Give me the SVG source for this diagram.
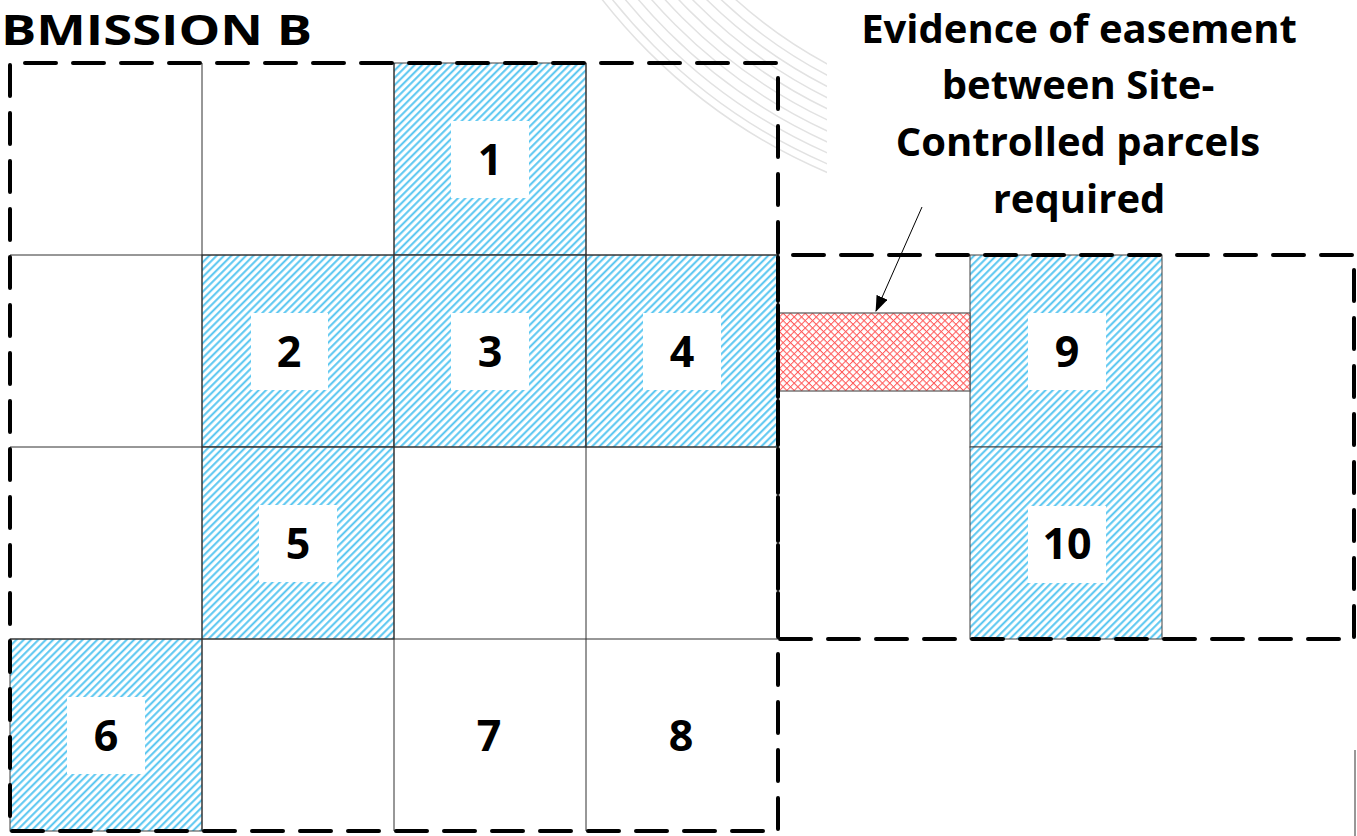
<svg xmlns="http://www.w3.org/2000/svg" width="1357" height="836" viewBox="0 0 1357 836">
<style>
.cell{fill:none;stroke:#303030;stroke-width:1}
.hat{fill:url(#hatch);stroke:#404040;stroke-width:1}
.lbl{fill:#fff}
.num{font-family:"Open Sans","Liberation Sans",sans-serif;font-weight:bold;font-size:43px;fill:#000;text-anchor:middle}
.ann{font-family:"Open Sans","Liberation Sans",sans-serif;font-weight:bold;font-size:40px;fill:#000;text-anchor:middle}
.dash{fill:none;stroke:#000;stroke-width:4;stroke-dasharray:31 17;stroke-dashoffset:33;stroke-linecap:round}
.wm{fill:none;stroke:#e2e2e2;stroke-width:1.5}
</style>
<defs>
<pattern id="hatch" patternUnits="userSpaceOnUse" width="5.2" height="10" patternTransform="rotate(45)">
<rect width="5.2" height="10" fill="#fff"/>
<line x1="1.2" y1="0" x2="1.2" y2="10" stroke="#4fc3f0" stroke-width="1.9"/>
</pattern>
<pattern id="cross" patternUnits="userSpaceOnUse" width="5.2" height="5.2" patternTransform="rotate(45)">
<rect width="5.2" height="5.2" fill="#fff"/>
<path d="M0.5,0 V5.2 M0,0.5 H5.2" stroke="#ff5a5a" stroke-width="1"/>
</pattern>
<marker id="arr" markerWidth="16" markerHeight="12" refX="15" refY="6" orient="auto" markerUnits="userSpaceOnUse">
<path d="M0,0 L16,6 L0,12 Z" fill="#000"/>
</marker>
<clipPath id="wmclip"><rect x="560" y="0" width="267" height="200"/></clipPath>
</defs>
<rect width="1357" height="836" fill="#fff"/>
<g id="watermark" clip-path="url(#wmclip)">
<circle class="wm" cx="1050" cy="-350" r="470"/>
<circle class="wm" cx="1050" cy="-350" r="480"/>
<circle class="wm" cx="1050" cy="-350" r="490"/>
<circle class="wm" cx="1050" cy="-350" r="500"/>
<circle class="wm" cx="1050" cy="-350" r="510"/>
<circle class="wm" cx="1050" cy="-350" r="520"/>
<circle class="wm" cx="1050" cy="-350" r="530"/>
<circle class="wm" cx="1050" cy="-350" r="540"/>
<circle class="wm" cx="1050" cy="-350" r="550"/>
<circle class="wm" cx="1050" cy="-350" r="560"/>
<circle class="wm" cx="1050" cy="-350" r="568"/>
</g>
<text id="title" x="1" y="45" font-family="'Open Sans','Liberation Sans',sans-serif" font-weight="bold" font-size="42" textLength="311" lengthAdjust="spacingAndGlyphs">BMISSION B</text>
<g id="c1"><rect class="hat" x="394" y="63" width="192" height="192"/><rect class="lbl" x="451" y="121" width="78" height="77"/><text class="num" x="490" y="175">1</text></g>
<g id="c2"><rect class="hat" x="202" y="255" width="192" height="192"/><rect class="lbl" x="251" y="313" width="77" height="77"/><text class="num" x="289" y="367">2</text></g>
<g id="c3"><rect class="hat" x="394" y="255" width="192" height="192"/><rect class="lbl" x="451" y="313" width="78" height="77"/><text class="num" x="490" y="367">3</text></g>
<g id="c4"><rect class="hat" x="586" y="255" width="192" height="192"/><rect class="lbl" x="643" y="313" width="78" height="77"/><text class="num" x="682" y="367">4</text></g>
<g id="c5"><rect class="hat" x="202" y="447" width="192" height="192"/><rect class="lbl" x="259" y="505" width="78" height="77"/><text class="num" x="298" y="559">5</text></g>
<g id="c6"><rect class="hat" x="10" y="639" width="192" height="192"/><rect class="lbl" x="67" y="697" width="78" height="77"/><text class="num" x="106" y="751">6</text></g>
<g id="c7"><text class="num" x="489" y="751">7</text></g>
<g id="c8"><text class="num" x="681" y="751">8</text></g>
<g id="c9"><rect class="hat" x="970" y="255" width="192" height="192"/><rect class="lbl" x="1028" y="313" width="78" height="77"/><text class="num" x="1067" y="367">9</text></g>
<g id="c10"><rect class="hat" x="970" y="447" width="192" height="192"/><rect class="lbl" x="1028" y="506" width="78" height="77"/><text class="num" x="1067" y="559">10</text></g>
<g id="grid">
<line class="cell" x1="202" y1="63" x2="202" y2="831"/>
<line class="cell" x1="394" y1="63" x2="394" y2="831"/>
<line class="cell" x1="586" y1="63" x2="586" y2="831"/>
<line class="cell" x1="10" y1="255" x2="778" y2="255"/>
<line class="cell" x1="10" y1="447" x2="778" y2="447"/>
<line class="cell" x1="10" y1="639" x2="778" y2="639"/>
<line class="cell" x1="1355" y1="750" x2="1355" y2="836" stroke="#606060"/>
</g>
<g id="easement"><rect x="778" y="313" width="192" height="78" fill="url(#cross)" stroke="#555" stroke-width="1.2"/></g>
<g id="boundaries">
<rect class="dash" x="10" y="63" width="768" height="768"/>
<rect class="dash" x="778" y="255" width="576" height="384"/>
</g>
<g id="note">
<text class="ann" x="1079" y="43">Evidence of easement</text>
<text class="ann" x="1078" y="99">between Site-</text>
<text class="ann" x="1078" y="156">Controlled parcels</text>
<text class="ann" x="1079" y="213">required</text>
</g>
<g id="connectors">
<line x1="922" y1="207" x2="876" y2="311" stroke="#000" stroke-width="1" marker-end="url(#arr)"/>
</g>
</svg>
